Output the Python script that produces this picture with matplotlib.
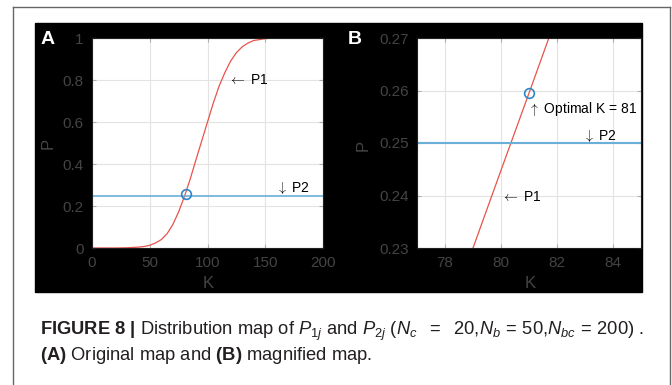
import numpy as np
import matplotlib
matplotlib.use('Agg')
import matplotlib.pyplot as plt
from matplotlib.patches import Rectangle
from matplotlib.lines import Line2D
#--------------------------------------
# P1 curve
k_full = [0, 20, 30, 40, 45, 50, 55, 60, 65, 70, 75, 80, 85, 90, 95, 100,
          105, 110, 115, 120, 125, 130, 135, 140, 150, 160, 200]
p1_full = [0, 0, 0.001, 0.004, 0.007, 0.013, 0.024, 0.040, 0.068, 0.112, 0.172,
           0.245, 0.328, 0.42, 0.51, 0.60, 0.69, 0.77, 0.835, 0.89, 0.93,
           0.958, 0.976, 0.988, 0.997, 1.0, 1.0]
# P1 curve (magnified)
k_zoom = [78, 79, 80, 81, 82, 83]
p1_zoom = [0.2153, 0.2300, 0.2448, 0.2595, 0.2743, 0.2890]
p2_level = 0.25
k_opt = 81
p_opt = 0.2595

xticks_a = [0, 50, 100, 150, 200]
yticks_a = [0, 0.2, 0.4, 0.6, 0.8, 1]
yticklabels_a = ['0', '0.2', '0.4', '0.6', '0.8', '1']
xticks_b = [78, 80, 82, 84]
yticks_b = [0.23, 0.24, 0.25, 0.26, 0.27]
#--------------------------------------
plt.rcParams['font.family'] = ['Liberation Sans', 'DejaVu Sans']
plt.rcParams['mathtext.fontset'] = 'custom'
plt.rcParams['mathtext.rm'] = 'Liberation Sans'
plt.rcParams['mathtext.it'] = 'Liberation Sans:italic'
plt.rcParams['mathtext.bf'] = 'Liberation Sans:bold'

W, H = 672, 385
fig = plt.figure(figsize=(W / 100, H / 100), dpi=100)

def fx(px):
    return px / W

def fy(py):
    return 1 - py / H

red = '#e8534c'
blue = '#6aaed9'
circ = '#2f86c6'
tick_col = '#444444'

# outer frame and black panel
fig.add_artist(Line2D([fx(13), fx(13)], [0, fy(7)], color='#666666', lw=1))
fig.add_artist(Line2D([fx(670), fx(670)], [0, fy(7)], color='#666666', lw=1))
fig.add_artist(Line2D([fx(13), fx(670)], [fy(7), fy(7)], color='#666666', lw=1))
fig.add_artist(Rectangle((fx(35), fy(292)), fx(642) - fx(35), fy(23) - fy(292),
                         transform=fig.transFigure, color='black', zorder=-5))

ax_a = fig.add_axes([fx(92), fy(248), fx(323) - fx(92), fy(38) - fy(248)])
ax_b = fig.add_axes([fx(417), fy(248), fx(641) - fx(417), fy(38) - fy(248)])

for ax in (ax_a, ax_b):
    ax.set_facecolor('white')
    ax.grid(True, color='#e3e3e3', lw=0.8)
    ax.set_axisbelow(True)
    ax.tick_params(direction='in', length=3, color='#b0b0b0', labelcolor=tick_col,
                   labelsize=11, top=True, right=True, pad=6)
    for s in ax.spines.values():
        s.set_color('#202020')

note = dict(ha='left', va='center', fontsize=10, math_fontfamily='cm')

# panel A
ax_a.plot(k_full, p1_full, color=red, lw=0.9)
ax_a.axhline(p2_level, color=blue, lw=1.2)
ax_a.plot([k_opt], [p_opt], 'o', mfc='none', mec=circ, ms=7, mew=1.2)
ax_a.set_xlim(0, 200)
ax_a.set_ylim(0, 1)
ax_a.set_xticks(xticks_a)
ax_a.set_yticks(yticks_a)
ax_a.set_yticklabels(yticklabels_a)
ax_a.text(118, 0.8, r'$\leftarrow$ P1', **note)
ax_a.text(159, 0.285, r'$\downarrow$ P2', **note)

# panel B
ax_b.plot(k_zoom, p1_zoom, color=red, lw=0.9)
ax_b.axhline(p2_level, color=blue, lw=1.5)
ax_b.plot([k_opt], [p_opt], 'o', mfc='none', mec=circ, ms=7, mew=1.2)
ax_b.set_xlim(77, 85)
ax_b.set_ylim(0.23, 0.27)
ax_b.set_xticks(xticks_b)
ax_b.set_yticks(yticks_b)
ax_b.text(80.97, 0.2565, r'$\uparrow$ Optimal K = 81', **note)
ax_b.text(82.93, 0.2514, r'$\downarrow$ P2', **note)
ax_b.text(80.0, 0.2397, r'$\leftarrow$ P1', **note)

# axis labels and panel letters
fig.text(fx(48), fy(143), 'P', rotation=90, ha='center', va='center', color=tick_col, fontsize=12)
fig.text(fx(363), fy(145), 'P', rotation=90, ha='center', va='center', color=tick_col, fontsize=12)
fig.text(fx(208), fy(284), 'K', ha='center', va='center', color=tick_col, fontsize=12)
fig.text(fx(530), fy(284), 'K', ha='center', va='center', color=tick_col, fontsize=12)
fig.text(fx(48), fy(39), 'A', ha='center', va='center', color='white', fontsize=14, fontweight='bold')
fig.text(fx(355), fy(39), 'B', ha='center', va='center', color='white', fontsize=14, fontweight='bold')

# caption
cap1 = (r'$\mathbf{FIGURE\ 8\ |}$ Distribution map of $P_{1j}$ and $P_{2j}$ '
        r'($N_c\ \ =\ \ 20$,$N_b\,=\,50$,$N_{bc}\,=\,200$) .')
cap2 = r'$\mathbf{(A)}$ Original map and $\mathbf{(B)}$ magnified map.'
fig.text(fx(40), fy(331), cap1, ha='left', va='center', fontsize=13.2, color='#231f20')
fig.text(fx(40), fy(355), cap2, ha='left', va='center', fontsize=13.2, color='#231f20')

fig.savefig('out.png', dpi=100, facecolor='white')
